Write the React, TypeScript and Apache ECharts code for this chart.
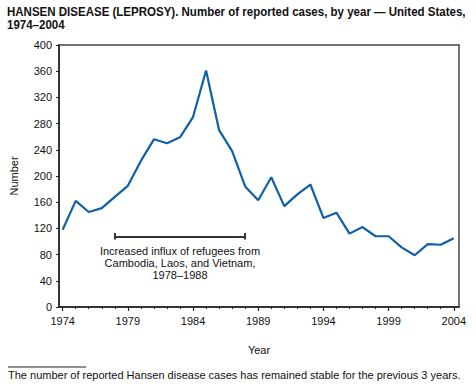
import React, { useEffect, useRef } from "react";
import * as echarts from "echarts";

const years: number[] = [1974,1975,1976,1977,1978,1979,1980,1981,1982,1983,1984,1985,1986,1987,1988,1989,1990,1991,1992,1993,1994,1995,1996,1997,1998,1999,2000,2001,2002,2003,2004];
const cases: number[] = [118,162,145,151,168,185,223,256,250,259,290,361,270,238,184,163,198,154,172,187,136,144,112,122,108,108,91,79,96,95,105];
const majorYears: number[] = [1974,1979,1984,1989,1994,1999,2004];
const yTicks: number[] = [0,40,80,120,160,200,240,280,320,360,400];
const influxStart = 1978;
const influxEnd = 1988;
const influxLevel = 108;
const titleText = "HANSEN DISEASE (LEPROSY). Number of reported cases, by year — United States,\n1974–2004";
const annotationText = "Increased influx of refugees from\nCambodia, Laos, and Vietnam,\n1978–1988";
const footnoteText = "The number of reported Hansen disease cases has remained stable for the previous 3 years.";

const FONT = "'Liberation Sans', Arial, Helvetica, sans-serif";

export default function App() {
  const ref = useRef<HTMLDivElement>(null);
  useEffect(() => {
    if (!ref.current) return;
    const chart = echarts.init(ref.current, null, { renderer: "svg" });
    const data = years.map((y, i) => [y, cases[i]]);
    const capH = 5;
    chart.setOption({
      animation: false,
      backgroundColor: "#fff",
      textStyle: { fontFamily: FONT },
      grid: { left: 49, right: 17, top: 45, bottom: 85, show: true, borderColor: "#444", borderWidth: 1.5, containLabel: false },
      xAxis: [
        {
          type: "value",
          min: 1973.72,
          max: 2004.4,
          name: "Year",
          nameLocation: "middle",
          nameGap: 37,
          nameTextStyle: { fontFamily: FONT, fontSize: 11, color: "#111" },
          axisLine: { show: true, lineStyle: { color: "#222", width: 1.5 } },
          axisTick: { show: true, length: 4, customValues: majorYears, lineStyle: { color: "#222", width: 1.2 } },
          axisLabel: { customValues: majorYears, fontSize: 11, color: "#111", margin: 8, formatter: (v: number) => String(v) },
          splitLine: { show: false },
        },
        {
          type: "value",
          min: 1973.72,
          max: 2004.4,
          position: "bottom",
          axisLine: { show: false },
          axisTick: { show: true, length: 2, customValues: years, lineStyle: { color: "#222", width: 1 } },
          axisLabel: { show: false },
          splitLine: { show: false },
        },
      ],
      yAxis: {
        type: "value",
        min: 0,
        max: 400,
        interval: 40,
        name: "Number",
        nameLocation: "middle",
        nameGap: 40,
        nameRotate: 90,
        nameTextStyle: { fontFamily: FONT, fontSize: 11, color: "#111" },
        axisLine: { show: true, lineStyle: { color: "#222", width: 1.5 } },
        axisTick: { show: true, length: 3, lineStyle: { color: "#222" } },
        axisLabel: { fontSize: 11, color: "#111", margin: 7, customValues: yTicks },
        splitLine: { show: false },
      },
      series: [
        {
          type: "line",
          data,
          xAxisIndex: 0,
          symbol: "none",
          lineStyle: { color: "#1060a8", width: 2.2 },
          markLine: {
            silent: true,
            symbol: "none",
            label: { show: false },
            lineStyle: { color: "#333", width: 2, type: "solid" },
            data: [
              [{ coord: [influxStart, influxLevel] }, { coord: [influxEnd, influxLevel] }],
              [{ coord: [influxStart, influxLevel - capH] }, { coord: [influxStart, influxLevel + capH] }],
              [{ coord: [influxEnd, influxLevel - capH] }, { coord: [influxEnd, influxLevel + capH] }],
            ],
          },
          markPoint: {
            silent: true,
            symbol: "rect",
            symbolSize: 0,
            data: [{ coord: [(influxStart + influxEnd) / 2, influxLevel], value: 0 }],
            label: {
              show: true,
              position: "bottom",
              distance: 9,
              formatter: annotationText,
              fontFamily: FONT,
              fontSize: 11,
              lineHeight: 12,
              color: "#111",
              align: "center",
            },
          },
        },
      ],
      graphic: [
        {
          type: "text",
          x: 7,
          y: 5,
          scaleX: 0.96,
          style: { text: titleText, font: `bold 12px ${FONT}`, fill: "#111", lineHeight: 13, verticalAlign: "top" },
        },
        { type: "line", shape: { x1: 8, y1: 367, x2: 86, y2: 367 }, style: { stroke: "#222", lineWidth: 1 } },
        {
          type: "text",
          x: 8,
          y: 369,
          style: { text: footnoteText, font: `11px ${FONT}`, fill: "#111" },
        },
      ],
    });
    return () => chart.dispose();
  }, []);
  return <div ref={ref} style={{ position: "fixed", left: 0, top: 0, width: 476, height: 392 }} />;
}
